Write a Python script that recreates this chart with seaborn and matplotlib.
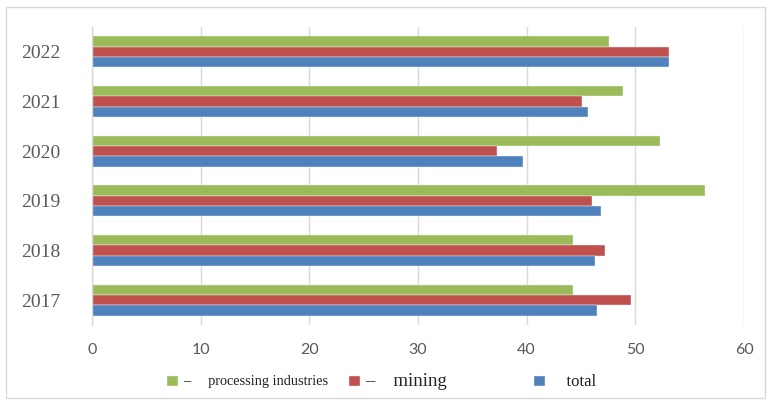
import matplotlib
matplotlib.use("Agg")
import matplotlib.pyplot as plt
from matplotlib.patches import Rectangle
import seaborn as sns
import pandas as pd

years = ["2022", "2021", "2020", "2019", "2018", "2017"]
processing = [47.6, 48.9, 52.3, 56.4, 44.3, 44.3]
mining = [53.1, 45.1, 37.3, 46.0, 47.2, 49.6]
total = [53.1, 45.6, 39.7, 46.8, 46.3, 46.5]
series_names = ["processing industries", "mining", "total"]
colors = ["#9BBB59", "#C0504D", "#4F81BD"]
x_ticks = [0, 10, 20, 30, 40, 50, 60]

rows = []
for name, vals in zip(series_names, [processing, mining, total]):
    for y, v in zip(years, vals):
        rows.append({"year": y, "series": name, "value": v})
df = pd.DataFrame(rows)

sns.set_style("white")
fig = plt.figure(figsize=(7.68, 4.04), dpi=100)
ax = fig.add_axes([92 / 768, 79 / 404, 652 / 768, 298 / 404])

sns.barplot(data=df, y="year", x="value", hue="series", orient="h",
            order=years, hue_order=series_names, palette=colors,
            width=0.63, gap=0, ax=ax, edgecolor="#EEF2F8", linewidth=0.3,
            saturation=1)

handles, labels = ax.get_legend_handles_labels()
if ax.get_legend() is not None:
    ax.get_legend().remove()

ax.set_xlim(0, 60)
ax.set_xticks(x_ticks)
ax.set_xlabel("")
ax.set_ylabel("")
ax.grid(axis="x", color="#D9D9D9", linewidth=1)
ax.set_axisbelow(True)
for s in ["top", "right", "bottom"]:
    ax.spines[s].set_visible(False)
ax.spines["left"].set_color("#D9D9D9")
ax.spines["left"].set_linewidth(1)

ax.tick_params(axis="x", length=5, color="#D9D9D9", direction="out", pad=8,
               labelcolor="#595959")
ax.tick_params(axis="y", length=0, pad=23, labelcolor="#595959")
for t in ax.get_xticklabels():
    t.set_fontfamily("Lato")
    t.set_fontsize(11.5)
for t in ax.get_yticklabels():
    t.set_fontfamily("Liberation Serif")
    t.set_fontsize(14)

leg_labels = ["\u2013     processing industries",
              "\u2013    mining              ",
              "    total"]
leg = fig.legend(handles, leg_labels, ncol=3, loc="center",
                 bbox_to_anchor=(0.497, 1 - 381 / 404), frameon=False,
                 handlelength=0.75, handleheight=0.75, handletextpad=0.4,
                 columnspacing=1.5, borderpad=0)
sizes = [10.3, 13.5, 12]
for t, s in zip(leg.get_texts(), sizes):
    t.set_fontfamily("Liberation Serif")
    t.set_fontsize(s)
    t.set_color("#222222")

fig.patches.append(Rectangle((6 / 768, 6 / 404), 759 / 768, 391 / 404,
                             transform=fig.transFigure, fill=False,
                             edgecolor="#D9D9D9", linewidth=1))

fig.savefig("out.png", dpi=100)
